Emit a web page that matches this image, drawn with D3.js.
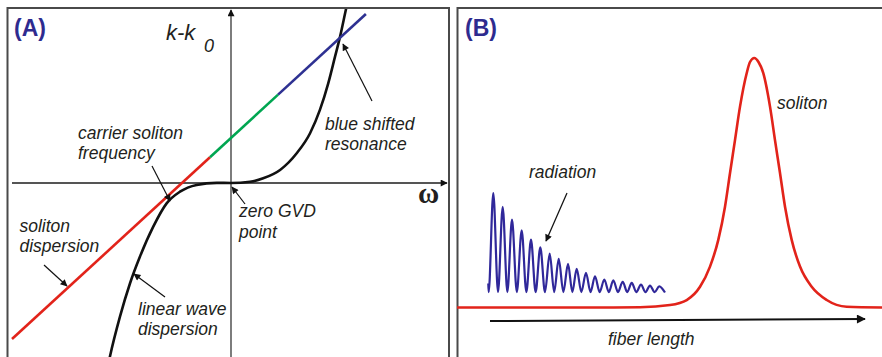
<!DOCTYPE html>
<html>
<head>
<meta charset="utf-8">
<script src="https://cdn.jsdelivr.net/npm/d3@7"></script>
<style>
  html, body { margin: 0; padding: 0; background: #fff; }
  svg { display: block; }
  .lbl { font-family: "Liberation Sans", Arial, sans-serif; font-style: italic; font-size: 17.5px; fill: #231f20; }
  .panel { font-family: "Liberation Sans", Arial, sans-serif; font-weight: bold; font-size: 23px; fill: #2e2b8f; }
</style>
</head>
<body>
<svg id="chart" width="882" height="357"></svg>
<script>
// Panel A: soliton dispersion line, split into three coloured frequency bands
const omegaBreaks = [-1, -0.096, 0.215, 0.616];
const kBreaks = [-0.897, 0.148, 0.508, 0.971];
const bandColors = ["#e2231a", "#00a651", "#2e3192"];

// Panel A: linear wave dispersion curve k(ω)
const waveOmega = [-0.562, -0.553, -0.507, -0.461, -0.416, -0.355, -0.294, -0.233, -0.157, -0.065, 0,
                   0.087, 0.147, 0.224, 0.300, 0.361, 0.406, 0.444, 0.475, 0.498, 0.521, 0.532];
const waveK = [-1.05, -0.998, -0.768, -0.576, -0.424, -0.251, -0.117, -0.050, -0.011, 0.001, 0,
               0.007, 0.027, 0.075, 0.171, 0.286, 0.420, 0.573, 0.726, 0.841, 0.975, 1.04];

// Panel B: soliton pulse profile along the fibre
const pulsePos = [0, 33.6, 43.06, 50.12, 54.05, 57.18, 59.53, 61.48, 63.06, 64.24, 65.41, 66.59, 68.16,
                  68.94, 69.95, 70.94, 72.07, 73.65, 74.82, 76.0, 77.18, 78.75, 80.71, 83.46, 86.99, 91.69, 100];
const pulseAmp = [0, 0, 0.001, 0.010, 0.030, 0.083, 0.164, 0.271, 0.404, 0.539, 0.671, 0.805, 0.939,
                  0.984, 1.0, 0.984, 0.939, 0.805, 0.671, 0.539, 0.404, 0.271, 0.164, 0.083, 0.030, 0.003, 0];

// Panel B: dispersive radiation shed behind the soliton (alternating troughs and crests)
const radiationPos = [7.36, 7.45, 8.54, 9.65, 10.75, 11.85, 12.94, 14.08, 15.22, 16.32, 17.41, 18.50,
                      19.60, 20.70, 21.81, 22.87, 23.93, 25.03, 26.12, 27.14, 28.16, 29.26, 30.35, 31.41,
                      32.47, 33.57, 34.66, 35.72, 36.78, 37.88, 38.99, 40.05, 41.11, 42.20, 43.29, 44.35,
                      45.41, 46.50, 47.60, 48.94];
const radiationAmp = [0.096, 0.062, 0.459, 0.062, 0.403, 0.062, 0.352, 0.062, 0.309, 0.062, 0.272, 0.062,
                      0.241, 0.062, 0.216, 0.062, 0.195, 0.062, 0.175, 0.062, 0.155, 0.062, 0.139, 0.062,
                      0.125, 0.062, 0.112, 0.062, 0.109, 0.062, 0.103, 0.062, 0.099, 0.062, 0.092, 0.062,
                      0.088, 0.062, 0.085, 0.060];

const svg = d3.select("#chart");

// arrowhead markers
const defs = svg.append("defs");
defs.append("marker")
  .attr("id", "thin").attr("viewBox", "0 0 10 10").attr("refX", 9).attr("refY", 5)
  .attr("markerUnits", "userSpaceOnUse").attr("markerWidth", 9).attr("markerHeight", 7)
  .attr("orient", "auto")
  .append("path").attr("d", "M0,0 L10,5 L0,10 Z").attr("fill", "#111");
defs.append("marker")
  .attr("id", "thick").attr("viewBox", "0 0 10 10").attr("refX", 9).attr("refY", 5)
  .attr("markerUnits", "userSpaceOnUse").attr("markerWidth", 15).attr("markerHeight", 9)
  .attr("orient", "auto")
  .append("path").attr("d", "M0,0 L10,5 L0,10 Z").attr("fill", "#111");
defs.append("clipPath").attr("id", "clipA")
  .append("rect").attr("x", 8).attr("y", 9).attr("width", 440).attr("height", 360);

// ---------- Panel A ----------
const xA = d3.scaleLinear().domain([-1, 1]).range([12, 450]);
const yA = d3.scaleLinear().domain([-1, 1]).range([357, 9]);

const gA = svg.append("g");
gA.append("rect").attr("x", 7.5).attr("y", 8).attr("width", 441.5).attr("height", 360)
  .attr("fill", "none").attr("stroke", "#4a4a4a").attr("stroke-width", 2);

// ω axis
gA.append("line").attr("x1", xA(-1)).attr("x2", 447).attr("y1", yA(0)).attr("y2", yA(0))
  .attr("stroke", "#555").attr("stroke-width", 1.8).attr("marker-end", "url(#thin)");
// k axis
gA.append("line").attr("x1", xA(0)).attr("x2", xA(0)).attr("y1", 357).attr("y2", 10)
  .attr("stroke", "#111").attr("stroke-width", 1.1).attr("marker-end", "url(#thin)");

const plotA = gA.append("g").attr("clip-path", "url(#clipA)");

const waveLine = d3.line().x(i => xA(waveOmega[i])).y(i => yA(waveK[i])).curve(d3.curveMonotoneX);
plotA.append("path").attr("d", waveLine(d3.range(waveOmega.length)))
  .attr("fill", "none").attr("stroke", "#111").attr("stroke-width", 2.6);

bandColors.forEach((c, i) => {
  plotA.append("line")
    .attr("x1", xA(omegaBreaks[i])).attr("y1", yA(kBreaks[i]))
    .attr("x2", xA(omegaBreaks[i + 1])).attr("y2", yA(kBreaks[i + 1]))
    .attr("stroke", c).attr("stroke-width", 2.6);
});

gA.append("text").attr("class", "panel").attr("x", 14).attr("y", 35.5).text("(A)");

// axis labels
gA.append("text").attr("x", 166).attr("y", 39.5)
  .style("font-family", "'Liberation Sans', Arial, sans-serif").style("font-style", "italic")
  .style("font-size", "22px").attr("fill", "#231f20").text("k-k");
gA.append("text").attr("x", 204).attr("y", 51.5)
  .style("font-family", "'Liberation Sans', Arial, sans-serif").style("font-style", "italic")
  .style("font-size", "18px").attr("fill", "#231f20").text("0");
gA.append("text").attr("x", 418).attr("y", 203)
  .style("font-family", "'Liberation Serif', 'Times New Roman', serif").style("font-weight", "bold")
  .style("font-size", "29px").attr("fill", "#231f20").text("ω");

function label(g, x, y, lines) {
  const t = g.append("text").attr("class", "lbl").attr("x", x).attr("y", y);
  lines.forEach((s, i) => t.append("tspan").attr("x", x).attr("dy", i ? 20.3 : 0).text(s));
}
function arrow(g, x1, y1, x2, y2, thick) {
  g.append("line").attr("x1", x1).attr("y1", y1).attr("x2", x2).attr("y2", y2)
    .attr("stroke", "#111").attr("stroke-width", thick ? 2 : 1.2)
    .attr("marker-end", thick ? "url(#thick)" : "url(#thin)");
}

label(gA, 78, 138.7, ["carrier soliton", "frequency"]);
label(gA, 325, 130, ["blue shifted", "resonance"]);
label(gA, 19.5, 231.7, ["soliton", "dispersion"]);
label(gA, 239, 217.3, ["zero GVD", "point"]);
label(gA, 138, 315, ["linear wave", "dispersion"]);

arrow(gA, 152, 166, 170, 201);
arrow(gA, 44, 265, 67, 286);
arrow(gA, 165, 297, 134, 274);
arrow(gA, 245, 204, 232, 187);
arrow(gA, 372, 101, 343, 44);

// ---------- Panel B ----------
const xB = d3.scaleLinear().domain([0, 100]).range([457, 882]);
const yB = d3.scaleLinear().domain([0, 1]).range([307.5, 58]);

const gB = svg.append("g");
gB.append("rect").attr("x", 457.5).attr("y", 8).attr("width", 440).attr("height", 360)
  .attr("fill", "none").attr("stroke", "#4a4a4a").attr("stroke-width", 2);

const pulseLine = d3.line().x(i => xB(pulsePos[i])).y(i => yB(pulseAmp[i])).curve(d3.curveMonotoneX);
gB.append("path").attr("d", pulseLine(d3.range(pulsePos.length)))
  .attr("fill", "none").attr("stroke", "#e2231a").attr("stroke-width", 2.6);

const radLine = d3.line().x(i => xB(radiationPos[i])).y(i => yB(radiationAmp[i])).curve(d3.curveMonotoneX);
gB.append("path").attr("d", radLine(d3.range(radiationPos.length)))
  .attr("fill", "none").attr("stroke", "#30289a").attr("stroke-width", 2.2);

gB.append("text").attr("class", "panel").attr("x", 465).attr("y", 35.5).text("(B)");

label(gB, 529, 178.3, ["radiation"]);
label(gB, 777, 109.3, ["soliton"]);
label(gB, 608, 345, ["fiber length"]);

arrow(gB, 567, 193, 546, 241);
arrow(gB, 490, 321, 865, 319, true);
</script>
</body>
</html>
